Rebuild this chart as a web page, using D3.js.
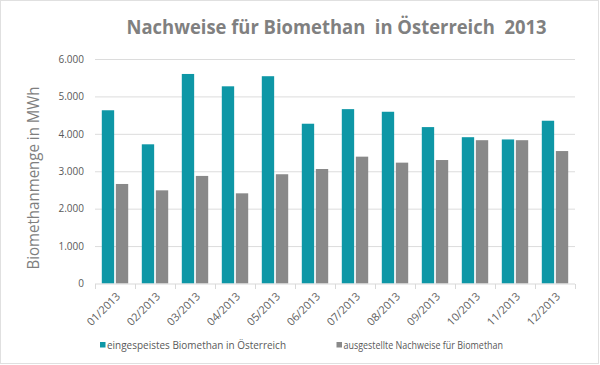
<!DOCTYPE html>
<html><head><meta charset="utf-8">
<script src="https://cdn.jsdelivr.net/npm/d3@7"></script>
<style>html,body{margin:0;padding:0;background:#fff;} svg{display:block;}</style>
</head><body>
<svg id="chart" width="600" height="365"></svg>
<script>
const months = ["01/2013","02/2013","03/2013","04/2013","05/2013","06/2013","07/2013","08/2013","09/2013","10/2013","11/2013","12/2013"];
const eingespeist = [4630, 3720, 5600, 5270, 5540, 4270, 4660, 4590, 4180, 3910, 3850, 4350];
const nachweise = [2660, 2490, 2875, 2410, 2920, 3060, 3390, 3230, 3300, 3830, 3830, 3540];
const seriesNames = ["eingespeistes Biomethan in Österreich", "ausgestellte Nachweise für Biomethan"];
const yTicks = [0, 1000, 2000, 3000, 4000, 5000, 6000];
const titleText = "Nachweise für Biomethan  in Österreich  2013";
const yTitle = "Biomethanmenge in MWh";

const colors = ["#0e97a6", "#898989"];
const svg = d3.select("#chart");
const W = 600, H = 365;
const m = {left: 95, right: 25, top: 59, bottom: 81.5};

svg.append("rect").attr("x",0.5).attr("y",0.5).attr("width",W-2).attr("height",H-2)
  .attr("fill","#fff").attr("stroke","#e0e0e0");

const x = d3.scaleBand().domain(months).range([m.left, W - m.right]).paddingInner(0.34).paddingOuter(0.17);
const x0 = d3.scaleBand().domain(months).range([m.left, W - m.right]);
const xs = d3.scaleBand().domain([0,1]).range([0, x.bandwidth()]).paddingInner(0.12);
const y = d3.scaleLinear().domain([0, 6000]).range([H - m.bottom, m.top]);

const fmt = v => d3.format(",")(v).replace(/,/g, ".");

// gridlines
svg.append("g").selectAll("line").data(yTicks.filter(d => d > 0)).join("line")
  .attr("x1", m.left).attr("x2", W - m.right)
  .attr("y1", d => y(d) + 0.5).attr("y2", d => y(d) + 0.5)
  .attr("stroke", "#dcdcdc").attr("stroke-width", 1);

// y axis labels
const yAxis = svg.append("g").attr("transform", `translate(${m.left - 11},0)`)
  .call(d3.axisLeft(y).tickValues(yTicks).tickFormat(fmt).tickSize(0).tickPadding(0));
yAxis.select(".domain").remove();
yAxis.selectAll("text").attr("font-family", "Open Sans, sans-serif").attr("font-size", "10px").attr("fill", "#595959");

// bars
const data = months.map((mo, i) => ({mo, vals: [eingespeist[i], nachweise[i]]}));
const groups = svg.append("g").selectAll("g").data(data).join("g")
  .attr("transform", d => `translate(${x(d.mo)},0)`);
groups.selectAll("rect").data(d => d.vals.map((v, k) => ({v, k}))).join("rect")
  .attr("x", d => xs(d.k)).attr("width", xs.bandwidth())
  .attr("y", d => y(d.v)).attr("height", d => y(0) - y(d.v))
  .attr("fill", d => colors[d.k]);

// x axis
const xAxisG = svg.append("g").attr("transform", `translate(0,${y(0) + 0.5})`);
xAxisG.append("line").attr("x1", m.left).attr("x2", W - m.right).attr("stroke", "#d9d9d9");
const bounds = months.map(mo => x0(mo)).concat([W - m.right]);
xAxisG.selectAll("line.tk").data(bounds).join("line").attr("class","tk")
  .attr("x1", d => Math.round(d) + 0.5).attr("x2", d => Math.round(d) + 0.5).attr("y1", 0).attr("y2", 5)
  .attr("stroke", "#d9d9d9");
xAxisG.selectAll("text").data(months).join("text")
  .attr("transform", d => `translate(${x0(d) + x0.bandwidth()/2 + 6},${13}) rotate(-45)`)
  .attr("text-anchor", "end")
  .attr("font-family", "Open Sans, sans-serif").attr("font-size", "11px").attr("fill", "#606060")
  .text(d => d);

// title
svg.append("text").attr("x", 126.5).attr("y", 34)
  .attr("font-family", "Open Sans, sans-serif").attr("font-weight", "bold").attr("font-size", "20px")
  .attr("fill", "#808080").attr("textLength", 420).attr("lengthAdjust", "spacingAndGlyphs")
  .style("white-space", "pre").text(titleText);

// y title
svg.append("text").attr("transform", `translate(39,${178}) rotate(-90)`)
  .attr("text-anchor", "middle").attr("font-family", "Open Sans, sans-serif").attr("font-size", "16.5px")
  .attr("fill", "#7f7f7f").attr("textLength", 183).attr("lengthAdjust", "spacingAndGlyphs")
  .text(yTitle);

// legend
const legX = [100, 336.5], legEnd = [286, 503];
seriesNames.forEach((name, i) => {
  svg.append("rect").attr("x", legX[i]).attr("y", 342).attr("width", 5.5).attr("height", 5.5).attr("fill", colors[i]);
  svg.append("text").attr("x", legX[i] + 7).attr("y", 348.5)
    .attr("font-family", "Open Sans, sans-serif").attr("font-size", "10.5px").attr("fill", "#595959")
    .attr("textLength", legEnd[i] - legX[i] - 7).attr("lengthAdjust", "spacingAndGlyphs")
    .text(name);
});
</script>
</body></html>
